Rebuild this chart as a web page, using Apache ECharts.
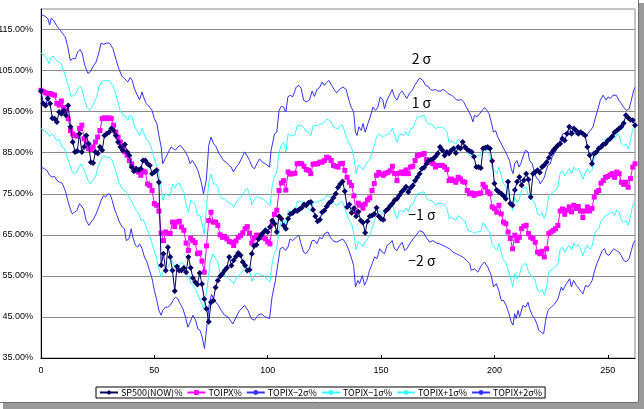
<!DOCTYPE html>
<html>
<head>
<meta charset="utf-8">
<script src="https://cdn.jsdelivr.net/npm/echarts@6/dist/echarts.min.js"></script>
<style>
html,body{margin:0;padding:0;background:#fff;}
#main{width:644px;height:409px;}
</style>
</head>
<body>
<div id="main"></div>
<script>
//SP500(NOW)% 每日一个点, x = 0..262
var sp500 = [
100.0,97.0,96.5,98.2,97.0,93.4,93.3,92.5,94.9,94.5,
95.3,94.1,96.5,91.3,87.6,85.2,85.4,89.6,85.2,86.4,
89.2,87.2,82.7,82.5,85.2,84.8,86.4,85.6,89.2,89.6,
90.0,90.9,90.4,89.2,87.6,86.4,85.6,87.0,85.2,84.3,
81.5,80.5,81.1,80.7,81.1,83.1,83.1,82.3,81.9,79.9,
80.3,80.7,77.8,57.6,60.4,56.3,62.0,59.6,56.3,51.3,
57.3,56.3,56.4,56.9,55.9,59.6,57.0,54.5,53.5,52.9,
55.7,53.0,49.4,47.0,43.8,48.6,49.0,52.2,53.9,54.9,
55.5,56.3,57.0,59.6,57.5,58.8,59.7,60.6,60.0,58.4,
57.5,56.3,56.5,60.4,62.3,62.6,64.0,64.9,65.5,66.1,
65.7,66.9,68.5,67.7,65.7,69.5,68.9,67.3,66.5,68.9,
70.1,70.3,70.9,70.8,71.2,71.6,72.4,72.2,72.8,73.0,
71.1,69.5,68.3,68.7,70.5,70.9,71.9,72.7,73.2,74.0,
75.0,76.5,77.4,78.0,75.6,71.8,72.4,70.4,71.5,69.5,
70.6,68.5,68.0,65.5,68.3,69.5,69.7,70.1,71.6,69.5,
68.9,68.7,70.8,71.3,72.0,72.6,73.4,73.8,74.6,75.4,
76.0,76.7,75.4,76.4,77.0,78.2,79.0,79.9,81.1,81.4,
82.3,83.1,83.3,83.5,84.1,84.8,86.4,85.6,84.3,85.2,
84.8,85.6,86.0,84.9,86.4,86.0,87.6,86.4,85.8,85.4,
85.2,84.0,81.5,81.5,81.3,86.0,86.2,86.4,86.0,83.0,
77.5,75.9,75.4,75.0,74.5,73.8,77.9,72.6,72.2,75.9,
77.9,79.1,77.1,78.3,79.9,78.5,74.2,79.9,80.3,80.7,
80.2,81.5,82.0,82.7,83.8,84.8,85.6,86.2,86.8,87.2,
88.4,88.0,89.6,91.3,89.6,90.9,90.4,89.6,90.0,89.6,
89.2,86.4,84.4,82.3,84.8,85.2,86.0,86.4,87.0,87.2,
88.0,88.4,89.0,90.0,90.4,90.9,91.3,92.2,94.1,93.5,
93.0,92.9,91.7
];
//TOIPX% 每日一个点
var topix = [
100.2,99.9,99.6,99.3,99.4,99.2,99.0,97.0,96.6,97.6,
96.0,95.3,93.3,90.4,89.6,89.2,89.0,90.9,91.7,88.4,
87.2,86.0,85.8,86.4,87.6,88.8,90.4,93.3,93.5,93.3,
93.5,93.3,91.7,90.0,88.8,87.6,86.4,85.2,84.4,83.1,
82.3,81.1,80.7,80.3,79.5,80.5,80.3,77.4,77.0,75.8,
72.6,72.2,70.8,65.4,63.6,65.7,65.3,65.3,68.1,67.0,
68.1,68.3,66.9,66.1,63.0,61.2,64.2,63.6,63.1,60.4,
60.6,58.6,55.9,62.3,68.5,70.5,68.1,68.1,67.3,65.0,
64.4,64.6,64.0,63.4,63.2,62.4,63.5,64.4,64.8,65.5,
66.5,67.0,65.4,63.0,64.2,64.9,64.9,64.5,64.4,64.0,
63.3,62.8,67.7,70.0,71.0,75.8,77.6,78.2,75.9,80.3,
79.8,79.9,80.0,82.3,82.4,82.3,81.7,80.9,80.7,79.9,
82.2,82.3,82.3,82.7,82.7,83.1,83.9,83.7,83.1,81.9,
81.7,81.5,82.3,82.4,80.7,79.0,77.8,77.0,74.5,70.6,
72.7,72.2,71.5,72.5,73.5,74.0,75.8,77.5,79.5,80.2,
79.8,79.5,80.0,80.2,80.6,81.7,79.9,78.2,80.0,80.3,
79.9,80.8,79.9,81.5,81.7,83.1,84.3,84.5,84.6,84.8,
83.3,82.7,82.7,82.3,81.5,81.9,81.9,81.9,81.5,80.9,
78.2,78.6,78.2,77.8,79.0,78.6,78.0,77.8,75.8,75.0,
75.2,74.6,75.0,75.0,75.2,77.3,76.6,75.5,75.0,71.8,
71.4,70.5,72.2,70.1,68.1,67.7,65.7,64.1,61.6,64.9,
63.6,64.4,66.5,67.1,67.3,65.3,64.4,64.1,63.2,60.8,
60.4,61.0,59.6,61.6,65.3,65.7,66.1,66.5,67.3,70.8,
71.3,70.0,71.0,71.8,70.6,72.2,71.4,71.9,70.8,69.2,
70.8,71.8,70.8,71.4,74.2,75.4,75.8,77.6,78.2,79.0,
79.2,79.6,79.9,79.0,80.3,79.9,77.8,77.3,77.8,76.6,
78.7,81.5,82.3
];
//TOPIX+2σ% 读取点 [x, 值]
var up2 = [[0,118.6],[1.5,118.3],[3,117.7],[3.8,116.1],[4.5,117.7],[5.5,117.3],[6.7,116.1],[7.9,115.2],[8.5,115.6],[9.6,114],[10.7,113.2],[11.8,110.8],[12.9,107.5],[14,107.9],[15.2,107.9],[16.2,109.6],[17.3,110.1],[18.2,109.1],[19.3,106.3],[20.7,104.3],[21.7,104.7],[22.9,105.9],[24.3,107.1],[25.5,109.3],[26.5,111.7],[27.6,111.4],[28.8,111.7],[30.2,111.7],[31.7,110.4],[33.2,107.5],[34.3,105.5],[35.8,103.5],[36.8,103.1],[38.3,102.2],[39.3,103.3],[40.2,102.6],[41.2,100.6],[42.3,99.2],[43.5,97.9],[44.6,99.8],[45.2,98.6],[46.4,97],[47.9,96.1],[49,95.3],[50,93.3],[51.1,92.1],[52,89.2],[53,86.4],[53.7,82.3],[54.8,83.6],[55.9,84.8],[57.4,86.4],[58.2,86],[59.3,85.6],[60.4,86.4],[61.5,86.8],[62.6,86],[63.7,85.2],[64.8,84],[65.8,82.3],[66.7,83.1],[67.7,82.3],[69.2,80.7],[70.7,77.8],[71.7,75],[72.9,78.3],[74,86.8],[75,88.8],[76.1,87.2],[77.3,86.4],[78.5,84.8],[79.5,84],[80.5,83.1],[81.7,82.7],[82.9,81.9],[83.9,81.5],[84.9,80.3],[86.1,81.5],[87.3,82.3],[88.8,84],[89.8,85.2],[90.8,84.3],[92,83.1],[93.2,81.5],[94.2,81.1],[95.2,82.3],[96.4,83.5],[97.6,82.7],[99,82.3],[100.8,81.5],[101.5,85.6],[103,89.6],[104,90],[105,95.3],[106,96.3],[107,96.1],[108,94.9],[108.9,98.6],[109.9,99],[111,98.6],[112.6,101],[113.8,101.4],[114.8,100.6],[115.8,97.8],[117,97.4],[118.4,97.8],[119.6,100],[120.6,98.7],[121.7,100.4],[122.9,100.9],[124,102.2],[125,101.4],[125.8,102],[127,102.6],[128.2,101.4],[129.5,100.2],[130.5,99.6],[131.7,100.4],[133.2,101],[134.6,100.4],[135.8,97.8],[136.8,96.1],[137.9,94.9],[138.7,90],[139.4,89.2],[140.2,91.3],[141.3,90.4],[142,92.1],[143,90],[144.2,92.1],[145.2,93.7],[146.4,96.1],[147.6,95.3],[148.6,96.1],[149.6,98.6],[150.8,97.8],[151.5,95.7],[152.6,97.8],[153.7,99],[154.9,100.4],[155.9,98.6],[157,97.8],[158.2,99.4],[159.3,100],[160.4,99],[161.4,98.2],[162.6,99.6],[163.8,100.2],[164.8,101.4],[165.8,102.2],[167,103.2],[168.5,102.6],[169.6,101.4],[170.7,101.2],[171.7,100.4],[172.9,100.2],[174,100.4],[175.1,100],[176.1,100],[177.3,100.4],[178.5,100],[179.5,99.4],[181,99],[182,98.6],[183.2,97.9],[184.3,97.8],[185.4,97.9],[186.4,97.4],[187.6,96.1],[188.8,94.9],[189.8,93.7],[190.5,92.5],[191.2,94.1],[192.3,93.7],[193.5,94.5],[194.6,95.3],[195.7,96],[196.7,95.3],[197.6,94.5],[198.6,92.5],[199.6,90],[200.5,90.4],[201.5,88.8],[202.6,87.6],[203.7,86.4],[204.9,85.2],[205.9,84],[206.7,83.1],[207.4,81.1],[208.2,79.9],[208.9,82.3],[209.9,83.1],[210.8,81.5],[211.6,82.3],[212.6,84],[213.7,85.6],[214.8,85.2],[215.5,83.1],[216.7,82.3],[217.7,79.9],[218.7,78.7],[219.6,78.3],[220.2,77.4],[221,77.8],[222,79],[222.8,80.7],[223.6,81.9],[224.6,82.3],[225.5,84],[226.5,84.8],[227.6,86],[228.4,87.2],[229.5,88.8],[230.2,89.6],[231.4,89.8],[232.4,90.4],[233.5,90],[234.6,90],[235.8,89.6],[236.8,90],[237.8,90.4],[239,90],[240.2,88.8],[241.2,89.6],[242.3,90.4],[243.5,91.3],[244.6,93.7],[245.7,95.7],[246.7,97.8],[247.9,99],[248.6,99.4],[249.3,97.8],[250.1,98.6],[251.1,98.2],[252.3,99],[253.7,99],[254.9,97.8],[255.9,97],[257,96.1],[258.2,95.3],[259.4,95.7],[260.4,97.8],[261.4,100.2],[262,100.9]];
//TOPIX-2σ% 读取点
var dn2 = [[0,81.5],[1.5,81.1],[2.6,80.7],[3.8,79.5],[4.9,79.1],[6,79.2],[7,78.3],[8.2,77.8],[9.3,77.6],[10.4,76.2],[11.1,75],[11.8,73.4],[12.9,71.3],[13.8,70.1],[14.8,70.5],[15.8,70.9],[17,72.6],[17.7,73],[18.8,71.3],[19.9,68.5],[21.1,67.3],[22.1,68.1],[23.2,68.9],[24.3,70.1],[25.5,71.8],[26.5,73.4],[27.6,74.6],[28.5,74.2],[29.5,75],[30.5,74.8],[31.4,73.4],[32.4,71.3],[33.5,69.7],[34.6,68.1],[35.8,66.9],[36.8,66.5],[37.6,63.6],[38.8,64],[39.8,66.5],[40.5,64.4],[41.7,62.4],[42.7,62],[43.5,62.8],[44.6,61.6],[45.6,59.6],[46.7,58.4],[47.9,56.3],[49,54.3],[50,51.5],[51.1,49],[52,46.6],[53,45.4],[53.7,46.6],[54.9,47.4],[55.9,47.4],[57,47.8],[58.2,49],[59.3,49.8],[60.4,49.4],[61.4,48.2],[62.6,47],[63.7,45],[64.8,42.5],[65.8,43.8],[67,45.4],[68.2,44.2],[69.2,42.1],[70.2,41.7],[71.1,40.1],[72.1,37.3],[73.2,43],[74.2,48],[75.2,50.5],[76.5,49],[78,48],[79.5,46.6],[81,45.4],[82.4,45],[84.6,43.3],[86.1,45],[87.6,46.6],[89.8,47.8],[91.3,46.6],[92.7,44.6],[94.2,44.2],[95.7,45.4],[97.1,45.8],[98.6,45.1],[100.8,44.6],[101.9,49.8],[103.4,53.9],[104.5,58],[105.5,61.6],[106.7,62],[107.9,61.2],[108.9,62],[109.9,64],[111,63.6],[112.6,64.4],[113.7,64.9],[114.7,62.8],[115.8,60.8],[116.9,60.4],[118.4,61.6],[119.6,63.6],[120.7,63.6],[121.7,62.8],[122.9,64.4],[124,64],[125.1,65.3],[126.6,65.7],[127.6,64.4],[128.7,63.6],[130.2,63.2],[131.7,63.6],[133.1,64],[134.6,62.8],[135.8,61.2],[136.8,59.6],[137.9,57.5],[138.7,52.3],[139.8,53.9],[140.5,53.1],[141.7,55.1],[142.7,52.7],[143.7,53.9],[144.9,56.3],[146.1,58],[147.1,59.6],[148.2,59.2],[149.4,61.6],[150.5,60.8],[151.5,60.4],[152.6,62.4],[153.7,62.8],[154.9,63.6],[155.9,61.6],[157,61.2],[158.2,62.4],[159.3,63.2],[160.4,61.2],[161.4,61.6],[162.6,62.8],[164.1,64],[165.5,64.9],[167,66],[168.5,65.7],[169.9,64.4],[171.4,63.2],[172.9,63.6],[174.3,63],[175.8,62.8],[177.3,62.4],[178.8,62],[180.2,61.6],[181.7,60.8],[183.2,60.4],[184.6,60],[186.1,59.6],[187.6,58.8],[189.1,58],[189.8,56.3],[191.2,56.7],[192.7,55.9],[194.2,57.5],[195.6,58.4],[197.1,57.1],[198.6,55.1],[199.6,52.3],[200.8,53.1],[201.9,51.5],[203,49],[204,49],[205.2,47.8],[206.4,45.8],[207.4,43.8],[208.2,43],[208.9,45.8],[209.6,44.6],[210.4,46.6],[211.1,45],[212.6,47.8],[213.8,47.4],[214.8,48.6],[215.5,47],[216.7,45.4],[217.7,44.6],[218.7,43.3],[219.6,41.7],[220.6,41.3],[221.7,40.9],[222.6,44.2],[223.6,46.6],[225.1,47.4],[226.6,48.2],[228,49.4],[229.5,52.3],[230.2,51.5],[231.7,53.1],[233.2,54.3],[233.9,52.3],[234.9,53.9],[236.1,52.7],[237.3,51.9],[238.3,51.1],[239,50.6],[240.2,52.7],[241.2,52.3],[242.3,53.1],[243.1,53.9],[244.2,56.3],[245.2,58],[246.4,59.6],[247.6,61.2],[248.6,61.6],[249.3,60.4],[250.5,60],[251.5,60.8],[252.6,61.6],[253.7,61.2],[254.9,60.8],[255.9,60],[257,58.8],[258.2,58.4],[259.4,59.2],[260.4,61.2],[261.2,62.8],[262,63.6]];
//TOPIX+1σ% 前半读取点 + 后半每日值(从55开始)
var up1Head = [[0,109.3],[1.5,108.7],[2.6,107.9],[3.5,106.7],[4.5,108.3],[5.5,108.5],[6.7,107.5],[7.9,107.1],[8.9,106.7],[9.9,105.1],[11.1,103],[12.3,100.9],[13.3,98.6],[14,99],[15.2,99.2],[16.3,100.6],[17.3,101.2],[18.2,100.2],[19.2,97.8],[20.2,96.1],[21.4,95.3],[22.6,96.3],[23.6,97.4],[24.6,98.6],[25.5,101],[26.5,102.2],[27.6,102.5],[28.8,102.6],[30.2,102.5],[31.7,101.4],[32.9,99.4],[33.9,97.4],[34.9,95.3],[36.1,94.1],[37.3,93.9],[38.3,92.9],[39,94.1],[40.2,93.7],[41.3,91.3],[42.3,90.4],[43.5,89.2],[44.6,90.9],[45.2,90],[46.4,88.4],[47.6,87.6],[48.6,86.4],[49.6,84.3],[50.8,82.3],[52,79.9],[53,76.6],[53.7,73.4]];
var up1Tail = [
75.0,74.6,74.6,77.4,76.3,77.4,77.6,76.2,75.4,72.3,
70.5,73.5,72.9,72.4,69.7,69.9,67.9,65.2,71.6,77.8,
79.8,77.4,77.4,76.6,74.3,73.7,73.9,73.3,72.7,72.5,
71.7,72.8,73.7,74.1,74.8,75.8,76.3,74.7,72.3,73.5,
74.2,74.2,73.8,73.7,73.3,72.6,72.1,77.0,79.3,80.3,
85.1,86.9,87.5,85.2,89.6,89.1,89.2,89.3,91.6,91.7,
91.6,91.0,90.2,90.0,89.2,91.5,91.6,91.6,92.0,92.0,
92.4,93.2,93.0,92.4,91.2,91.0,90.8,91.6,91.7,90.0,
88.3,87.1,86.3,83.8,79.9,82.0,81.5,80.8,81.8,82.8,
83.3,85.1,86.8,88.8,89.5,89.1,88.8,89.3,89.5,89.9,
91.0,89.2,87.5,89.3,89.6,89.2,90.1,89.2,90.8,91.0,
92.4,93.6,93.8,93.9,94.1,92.6,92.0,92.0,91.6,90.8,
91.2,91.2,91.2,90.8,90.2,87.5,87.9,87.5,87.1,88.3,
87.9,87.3,87.1,85.1,84.3,84.5,83.9,84.3,84.3,84.5,
86.6,85.9,84.8,84.3,81.1,80.7,79.8,81.5,79.4,77.4,
77.0,75.0,73.4,70.9,74.2,72.9,73.7,75.8,76.4,76.6,
74.6,73.7,73.4,72.5,70.1,69.7,70.3,68.9,70.9,74.6,
75.0,75.4,75.8,76.6,80.1,80.6,79.3,80.3,81.1,79.9,
81.5,80.7,81.2,80.1,78.5,80.1,81.1,80.1,80.7,83.5,
84.7,85.1,86.9,87.5,88.3,88.5,88.9,89.2,88.3,89.6,
89.2,87.1,86.6,87.1,85.9,88.0,90.8,91.6
];
//TOPIX-1σ% 前半读取点 + 后半每日值(从79开始)
var dn1Head = [[0,90.9],[1.5,90.3],[2.6,90],[3.8,89],[4.9,89.6],[6,88.8],[7,88],[8.2,88.2],[9.3,86.4],[10.4,86],[11.4,84],[12.6,82.3],[13.8,80.3],[14.8,79.9],[15.8,80.3],[16.7,81.5],[17.7,82.3],[18.8,81.1],[19.6,79.9],[20.7,78.3],[21.7,77.4],[22.9,78.3],[24,79.1],[25.1,81.5],[26.1,82.7],[27,83.9],[28,84.1],[29,83.9],[30.2,83.9],[31.4,83.1],[32.4,81.5],[33.5,79.5],[34.3,77.8],[35.4,76.6],[36.4,76],[37.6,75.4],[38.8,74.2],[39.8,73.4],[40.8,72.2],[42,70.9],[43.2,70.1],[44.2,68.5],[45.2,68.7],[46.4,66.9],[47.6,65.3],[48.6,63.6],[49.6,61.6],[50.8,59.6],[52,56.7],[53,54.7],[54,56.3],[55.2,56.7],[56.4,57.5],[57.4,58.8],[58.5,58],[59.6,56.3],[60.8,57.3],[61.8,58.4],[62.9,58],[64,55.9],[65.2,54.7],[66.2,53.1],[67.3,52.7],[68.4,51.5],[69.6,49.8],[70.7,48.6],[71.7,47],[72.6,49.8],[73.6,53.5],[74.6,58.4],[75.8,60.4],[77,59.2],[78,58.4]];
var dn1Tail = [
55.7,55.1,55.3,54.7,54.1,53.9,53.1,54.2,55.1,55.5,
56.2,57.2,57.7,56.1,53.7,54.9,55.6,55.6,55.2,55.1,
54.7,54.0,53.5,58.4,60.7,61.7,66.5,68.3,68.9,66.6,
71.0,70.5,70.6,70.7,73.0,73.1,73.0,72.4,71.6,71.4,
70.6,72.9,73.0,73.0,73.4,73.4,73.8,74.6,74.4,73.8,
72.6,72.4,72.2,73.0,73.1,71.4,69.7,68.5,67.7,65.2,
61.3,63.4,62.9,62.2,63.2,64.2,64.7,66.5,68.2,70.2,
70.9,70.5,70.2,70.7,70.9,71.3,72.4,70.6,68.9,70.7,
71.0,70.6,71.5,70.6,72.2,72.4,73.8,75.0,75.2,75.3,
75.5,74.0,73.4,73.4,73.0,72.2,72.6,72.6,72.6,72.2,
71.6,68.9,69.3,68.9,68.5,69.7,69.3,68.7,68.5,66.5,
65.7,65.9,65.3,65.7,65.7,65.9,68.0,67.3,66.2,65.7,
62.5,62.1,61.2,62.9,60.8,58.8,58.4,56.4,54.8,52.3,
55.6,54.3,55.1,57.2,57.8,58.0,56.0,55.1,54.8,53.9,
51.5,51.1,51.7,50.3,52.3,56.0,56.4,56.8,57.2,58.0,
61.5,62.0,60.7,61.7,62.5,61.3,62.9,62.1,62.6,61.5,
59.9,61.5,62.5,61.5,62.1,64.9,66.1,66.5,68.3,68.9,
69.7,69.9,70.3,70.6,69.7,71.0,70.6,68.5,68.0,68.5,
67.3,69.4,72.2,73.0
];
var seriesNames = ['SP500(NOW)%', 'TOIPX%', 'TOPIX−2σ%', 'TOPIX−1σ%', 'TOPIX+1σ%', 'TOPIX+2σ%'];
var yTicks = [35, 45, 55, 65, 75, 85, 95, 105, 115];

//拼装 [x, 值]
function toPairs(arr, start) {
    var res = [];
    for (var i = 0; i < arr.length; i++) {
        res.push([start + i, arr[i]]);
    }
    return res;
}

var chart = echarts.init(document.getElementById('main'));
var lineBase = {type: 'line', symbol: 'none', animation: false, lineStyle: {width: 1}};
var option = {
    backgroundColor: '#fff',
    animation: false,
    grid: {
        left: 41, right: 9, top: 9, bottom: 51, containLabel: false, outerBoundsMode: 'none',
        show: true, borderColor: '#8c8c8c', borderWidth: 1
    },
    xAxis: {
        type: 'value', min: 0, max: 262, interval: 50,
        axisLine: {lineStyle: {color: '#000', width: 1}},
        axisTick: {inside: true, length: 3, lineStyle: {color: '#000'}},
        axisLabel: {color: '#000', fontSize: 9, fontFamily: 'Liberation Sans', showMaxLabel: false, margin: 8},
        splitLine: {show: false}
    },
    yAxis: {
        type: 'value', min: 35, max: 120, interval: 5,
        axisLine: {show: true, lineStyle: {color: '#000', width: 1}},
        axisTick: {show: false},
        axisLabel: {
            color: '#000', fontSize: 9, fontFamily: 'Liberation Sans', margin: 8,
            formatter: function (v) {
                return yTicks.indexOf(v) >= 0 ? v.toFixed(2) + '%' : '';
            }
        },
        splitLine: {show: true, lineStyle: {color: ['#8c8c8c', 'rgba(0,0,0,0)'], width: 1}}
    },
    legend: {
        data: seriesNames,
        left: 96, bottom: 11,
        itemWidth: 18, itemHeight: 6, itemGap: 4,
        padding: [1, 3],
        borderColor: '#000', borderWidth: 1, borderRadius: 0,
        textStyle: {fontSize: 9, color: '#000', fontFamily: 'Noto Sans CJK JP', padding: [0, 0, 0, -2]}
    },
    graphic: [
        {type: 'rect', shape: {x: 639, y: 3, width: 5, height: 406}, style: {fill: '#9a9a9a'}, silent: true},
        {type: 'rect', shape: {x: 3, y: 403, width: 641, height: 6}, style: {fill: '#9a9a9a'}, silent: true},
        {type: 'line', shape: {x1: 638.5, y1: 0, x2: 638.5, y2: 402.5}, style: {stroke: '#6e6e6e', lineWidth: 1}, silent: true},
        {type: 'line', shape: {x1: 0, y1: 402.5, x2: 638.5, y2: 402.5}, style: {stroke: '#6e6e6e', lineWidth: 1}, silent: true}
    ],
    series: [
        echarts.util.merge({
            name: seriesNames[2], data: dn2, z: 2, itemStyle: {color: '#3333ff'}, lineStyle: {color: '#3333ff'}
        }, lineBase),
        echarts.util.merge({
            name: seriesNames[3], data: dn1Head.concat(toPairs(dn1Tail, 79)), z: 2,
            itemStyle: {color: '#33ffff'}, lineStyle: {color: '#33ffff'}
        }, lineBase),
        echarts.util.merge({
            name: seriesNames[4], data: up1Head.concat(toPairs(up1Tail, 55)), z: 2,
            itemStyle: {color: '#33ffff'}, lineStyle: {color: '#33ffff'}
        }, lineBase),
        echarts.util.merge({
            name: seriesNames[5], data: up2, z: 2, itemStyle: {color: '#3333ff'}, lineStyle: {color: '#3333ff'},
            markPoint: {
                symbol: 'circle', symbolSize: 0, silent: true,
                label: {show: true, formatter: '{b}', color: '#000', fontSize: 14, fontFamily: 'Noto Sans CJK JP'},
                data: [
                    {name: '2 σ', coord: [167.8, 107.8]},
                    {name: '1 σ', coord: [167.8, 97.3]},
                    {name: '−1 σ', coord: [168.0, 69.8]},
                    {name: '−2 σ', coord: [168.0, 58.8]}
                ]
            }
        }, lineBase),
        {
            name: seriesNames[1], type: 'line', data: toPairs(topix, 0), z: 3, animation: false,
            symbol: 'rect', symbolSize: 5, showAllSymbol: true,
            itemStyle: {color: '#ff00ff'}, lineStyle: {color: '#ff00ff', width: 1}
        },
        {
            name: seriesNames[0], type: 'line', data: toPairs(sp500, 0), z: 4, animation: false,
            symbol: 'diamond', symbolSize: 6, showAllSymbol: true,
            itemStyle: {color: '#000066'}, lineStyle: {color: '#000066', width: 1}
        }
    ]
};
chart.setOption(option);
</script>
</body>
</html>
